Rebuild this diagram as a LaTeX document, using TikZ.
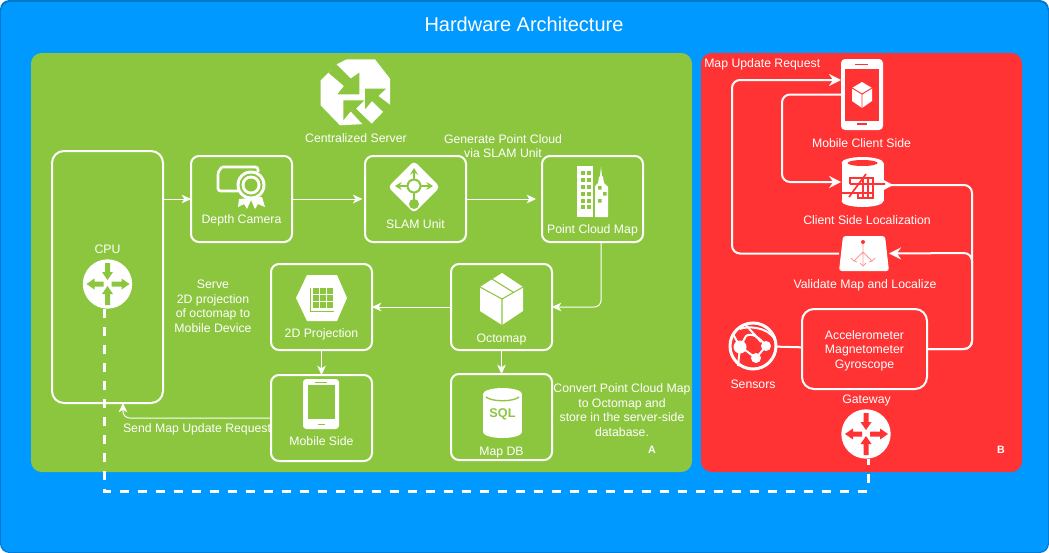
\documentclass[tikz,border=0pt]{standalone}
\usepackage{xcolor}
\usepackage{fontspec}
\usepackage{tikz}
\usetikzlibrary{shapes.geometric,arrows.meta,positioning,calc}
\setmainfont{Liberation Sans}
\definecolor{SkyBlue}{HTML}{0099FF}
\definecolor{EdgeBlue}{HTML}{0079CC}
\definecolor{LeafGreen}{HTML}{8CC63F}
\definecolor{AlertRed}{HTML}{FF3333}
\definecolor{SoftPink}{HTML}{FF9999}
\tikzset{
  BX/.style={rectangle,rounded corners=6pt,draw=white,line width=1.5pt,outer sep=0pt,
             minimum width=75.75pt,minimum height=64.5pt},
  lbl/.style={text=white,align=center,inner sep=0pt,
              font=\fontsize{9.2}{10.9}\selectfont},
  tag/.style={text=white,inner sep=0pt,font=\fontsize{8}{10}\selectfont\bfseries},
  arr/.style={-{Stealth[length=7pt,width=6.5pt,inset=2pt]},white,line width=.75pt,rounded corners=5pt},
  arrb/.style={-{Stealth[length=9pt,width=9pt,inset=3pt]},white,line width=1.5pt,rounded corners=6pt},
  bus/.style={white,line width=2.25pt,dash pattern=on 6.75pt off 6.75pt},
  disc/.style={circle,fill=white,outer sep=0pt,inner sep=0pt,minimum size=37pt},
  ghost/.style={rectangle,outer sep=0pt,inner sep=0pt}
}
% cylinder: centre x, top y, bottom y, half width, cap height
\newcommand{\cylbody}[5]{
  \fill[white] (#1,#2) ellipse [x radius=#4,y radius=#5];
  \fill[white] (#1,#3) ellipse [x radius=#4,y radius=#5];
  \fill[white] ({#1-#4},#2) rectangle ({#1+#4},#3);
}
% router: centre x, centre y, colour of the arrows
\newcommand{\routerarrows}[3]{
  \begin{scope}[shift={(#1,#2)},fill=#3]
    \fill (-2.5,-21) -- (2.5,-21) -- (2.5,-12) -- (5.5,-12) -- (0,-4) -- (-5.5,-12) -- (-2.5,-12) -- cycle;
    \fill (-2.5,21) -- (2.5,21) -- (2.5,10) -- (5.5,10) -- (0,2) -- (-5.5,10) -- (-2.5,10) -- cycle;
    \fill (-4,-2.5) -- (-4,2.5) -- (-13,2.5) -- (-13,5.5) -- (-21,0) -- (-13,-5.5) -- (-13,-2.5) -- cycle;
    \fill (4,-2.5) -- (4,2.5) -- (14,2.5) -- (14,5.5) -- (22,0) -- (14,-5.5) -- (14,-2.5) -- cycle;
  \end{scope}
}
% little cube, faces split by lines of colour #4
\newcommand{\cubeicon}[4]{
  \begin{scope}[shift={(#1,#2)},scale=#3]
    \fill[white] (0,-13) -- (10,-7) -- (10,6) -- (0,13) -- (-10,6) -- (-10,-7) -- cycle;
    \draw[#4,line width=.7pt] (-10,-7) -- (0,-1) -- (10,-7) (0,-1) -- (0,13);
  \end{scope}
}
\begin{document}
\begin{tikzpicture}[x=.75pt,y=-.75pt]
  \useasboundingbox (0,0) rectangle (1049,553);
  % panels
  \fill[EdgeBlue,rounded corners=7pt] (0,0) rectangle (1049,553);
  \fill[SkyBlue,rounded corners=7pt] (1,2) rectangle (1048,552);
  \fill[LeafGreen,rounded corners=8pt] (31,53) rectangle (692,472);
  \fill[AlertRed,rounded corners=8pt] (701,53) rectangle (1022,472);
  \node[lbl,font=\fontsize{15}{18}\selectfont] (title) at (524,24) {Hardware Architecture};
  \node[tag] (tagA) at (652,450) {A};
  \node[tag] (tagB) at (1001,450) {B};

  % left panel boxes
  \node[BX,rounded corners=9pt,minimum width=83.25pt,minimum height=189pt] (cpu) at (107.5,277) {};
  \node[BX,anchor=north west] (depth) at (191,156) {};
  \node[BX,right=54.75pt of depth] (slam) {};
  \node[BX,right=57pt of slam] (pcm) {};
  \node[BX,below=16.5pt of pcm,xshift=-68.25pt] (octomap) {};
  \node[BX,left=59.25pt of octomap] (proj) {};
  \node[BX,below=18.75pt of proj] (mobile) {};
  \node[BX,below=18pt of octomap] (mapdb) {};

  \node[lbl] (cpulbl) at (107.5,249) {CPU};
  \node[lbl,above=11.5pt of depth.south] (depthlbl) {Depth Camera};
  \node[lbl,above=10pt of slam.south] (slamlbl) {SLAM Unit};
  \node[lbl,above=4pt of pcm.south] (pcmlbl) {Point Cloud Map};
  \node[lbl,above=3.5pt of octomap.south] (octolbl) {Octomap};
  \node[lbl,above=7pt of proj.south] (projlbl) {2D Projection};
  \node[lbl,above=11pt of mobile.south] (mobilelbl) {Mobile Side};
  \node[lbl,above=1pt of mapdb.south] (mapdblbl) {Map DB};

  \node[lbl] (serverlbl) at (356,138) {Centralized Server};
  \node[lbl] (genlbl) at (503,146) {Generate Point Cloud\\via SLAM Unit};
  \node[lbl] (servelbl) at (213,306.5) {Serve\\2D projection\\of octomap to\\Mobile Device};
  \node[lbl] (sendlbl) at (197,429.5) {Send Map Update Request};
  \node[lbl] (convlbl) at (622,410) {Convert Point Cloud Map\\to Octomap and\\store in the server-side\\database.};

  % right panel
  \node[ghost,fill=white,rounded corners=3pt,minimum width=31.5pt,minimum height=53.25pt] (phone) at (862,94.5) {};
  \node[ghost,minimum width=32pt,minimum height=38pt] (clientdb) at (862.5,182) {};
  \node[ghost,minimum width=37.5pt,minimum height=26.25pt] (valid) at (864,253.5) {};
  \node[circle,draw=white,line width=2.25pt,outer sep=0pt,inner sep=0pt,minimum size=34.5pt] (sensors) at (753,346) {};
  \node[BX,minimum width=93.75pt,minimum height=60pt,rounded corners=9pt] (accel) at (864.5,349) {};
  \node[disc] (gateway) at (866,434) {};
  \node[disc] (cpurouter) at (107.5,284) {};

  \node[lbl,anchor=west] (reqlbl) at (704,64) {Map Update Request};
  \node[lbl] (mobclbl) at (861.5,143) {Mobile Client Side};
  \node[lbl] (loclbl) at (867,220.5) {Client Side Localization};
  \node[lbl] (validlbl) at (865,285) {Validate Map and Localize};
  \node[lbl] (senslbl) at (753,384) {Sensors};
  \node[lbl] (accellbl) at ([yshift=-1.2pt]accel.center) {Accelerometer\\Magnetometer\\Gyroscope};
  \node[lbl] (gatelbl) at (866.5,400.5) {Gateway};

  % connectors
  \draw[arr] (depth.west -| cpu.east) -- (depth.west);
  \draw[arr,shorten >=2pt] (depth) -- (slam);
  \draw[arr,shorten >=4.5pt] (slam) -- (pcm);
  \draw[arr] ([xshift=6.4pt]pcm.south) |- (octomap.east);
  \draw[arr] (octomap) -- (proj);
  \draw[arr] (proj) -- (mobile);
  \draw[arr] (octomap) -- (mapdb);
  \draw[arr] (mobile.west) -| ([xshift=11.6pt]cpu.south);
  \coordinate (busline) at (500,491);
  \draw[bus] ([xshift=-2.6pt]cpurouter.south) |- (busline) -| ([xshift=1.5pt]gateway.south);

  \coordinate (railA) at (732,80);
  \coordinate (railB) at (782,182);
  \coordinate (railC) at (972,185);
  \coordinate (railD) at (972,253);
  \draw[arrb] (valid.west) -| (railA) -- (railA -| phone.west);
  \draw[arrb] (phone.west) -| (railB) -- (railB -| clientdb.west);
  \draw[arrb,-{Stealth[reversed,length=7pt,width=7pt,inset=0pt]}] (accel.east) -| (railC) -- (railC -| clientdb.east);
  \draw[arrb] (accel.east) -| (railD) -- (valid.east);
  \draw[white,line width=1.5pt] (sensors) -- (accel);

  % server icon
  \begin{scope}[shift={(310,52)},x=.25pt,y=-.25pt]
    \fill[white] (78,38) -- (110,22) -- (195,22) -- (240,80) -- (240,158) -- (185,215) -- (90,220) -- (32,160) -- (32,85) -- (55,62) -- cycle;
    \fill[LeafGreen] (78,36) -- (122,80) -- (148,62) -- (148,127) -- (82,127) -- (102,102) -- (55,62) -- cycle;
    \fill[LeafGreen] (100,145) -- (163,145) -- (138,170) -- (192,222) -- (165,224) -- (122,178) -- (100,205) -- cycle;
    \fill[LeafGreen] (165,110) -- (228,110) -- (205,132) -- (242,160) -- (222,182) -- (186,147) -- (165,172) -- cycle;
  \end{scope}
  % certificate icon
  \draw[white,line width=2pt,rounded corners=2pt] (222,167) -- (258,167) -- (258,172) (238,191) -- (218,191) -- (218,172) -- (222,167);
  \fill[white] (239,199) -- (238,207) -- (244,204) -- (247,209) -- (251,200) -- (255,209) -- (258,204) -- (265,207) -- (262,197) -- cycle;
  \fill[white] (251,185) circle (14.5);
  \fill[LeafGreen] (251,185) circle (11.5);
  \fill[white] (251,185) circle (9.5);
  \fill[LeafGreen] (251,185) circle (6.5);
  % routing icon
  \fill[white,rounded corners=3pt] (414,161) -- (440,187) -- (414,213) -- (388,187) -- cycle;
  \draw[LeafGreen,line width=1.5pt,-{Stealth[length=5pt,width=6pt]}] (414,186) -- (414,168);
  \draw[LeafGreen,line width=1.5pt,-{Stealth[length=5pt,width=6pt]}] (414,186) -- (395,186);
  \draw[LeafGreen,line width=1.5pt,-{Stealth[length=5pt,width=6pt]}] (414,186) -- (433,186);
  \draw[LeafGreen,line width=1.5pt] (414,186) -- (414,203);
  \fill[LeafGreen] (414,186) circle (7.5);
  \fill[white] (414,186) circle (5.5);
  \fill[LeafGreen] (414,204) circle (5);
  % towers icon
  \fill[white] (577,166) rectangle (593,217);
  \foreach \rowy in {171,178,185,192,199,205}
    \foreach \colx in {581,587}
      \fill[LeafGreen] (\colx,\rowy) rectangle ++(3.5,3.5);
  \fill[white] (595,217) -- (595,186) -- (598,183) -- (599,177) -- (600,176) -- (601,167) -- (602,176) -- (603,177) -- (604,183) -- (608,187) -- (608,217) -- cycle;
  \fill[LeafGreen] (598,186) rectangle ++(3.5,3.5) (603,192) rectangle ++(3.5,3.5) (598,199) rectangle ++(3.5,3.5);
  % crate icon
  \fill[white] (502,273) -- (523,287) -- (523,311) -- (502,325) -- (480,311) -- (480,287) -- cycle;
  \draw[LeafGreen,line width=.8pt] (480,287) -- (502,299) -- (523,287) (502,299) -- (502,325) (492,279) -- (513,292);
  % grid icon
  \fill[white] (307,275) -- (337,275) -- (347,298) -- (337,321) -- (307,321) -- (296,298) -- cycle;
  \draw[LeafGreen,line width=.7pt] (310,288) -- (310,311) -- (334,311);
  \foreach \rowy in {288,295,302}
    \foreach \colx in {313,320,327}
      \fill[LeafGreen] (\colx,\rowy) rectangle ++(5.5,5.5);
  % tablet icon
  \fill[white,rounded corners=2.5pt] (303,379) rectangle (339,429);
  \fill[LeafGreen] (308,385) rectangle (335,419);
  \fill[LeafGreen] (315,381.5) rectangle (327,383);
  \fill[LeafGreen] (318,423.5) rectangle (325,425);
  % sql icon
  \cylbody{502.5}{394}{432}{19.5}{6}
  \draw[LeafGreen,line width=1pt] (486,397) .. controls (492,402) and (513,402) .. (519,397);
  \node[lbl,text=LeafGreen,font=\fontsize{9.5}{11}\selectfont\bfseries] (sqltxt) at (502.5,414) {SQL};
  % phone icon
  \fill[AlertRed] (845,69) rectangle (879,121);
  \fill[AlertRed] (855,63.5) rectangle (868,65);
  \fill[AlertRed] (857,123) rectangle (867,125);
  \cubeicon{862}{95}{1}{AlertRed}
  % map database icon
  \cylbody{862.5}{163}{201}{21}{6}
  \fill[AlertRed] (862.5,163) ellipse [x radius=15,y radius=3];
  \draw[AlertRed,line width=1.3pt] (850,184) -- (850,178) -- (873,178) -- (873,198) -- (858,198) -- (858,192) (841,193) -- (873,193) (866,174) -- (849,197) (863,178) -- (863,198) (868,178) -- (868,198) (850,184) -- (885,184);
  % splitter icon
  \fill[white,rounded corners=2pt] (843,236) -- (885,236) -- (889,271) -- (839,271) -- cycle;
  \begin{scope}[SoftPink,line width=.7pt]
    \draw (863,243) -- (863,266) (863,252) -- (854,261) (863,252) -- (872,261);
    \draw (851,258) -- (854,261) -- (857,262) (875,258) -- (872,261) -- (869,262) (860,263) -- (863,266) -- (866,263);
  \end{scope}
  \fill[AlertRed] (863,242) circle (2);
  % globe icon
  \begin{scope}[white,line width=1.5pt]
    \fill (740,347) circle (6.5) (766,346) circle (5) (756,358) circle (5);
    \draw (740,347) -- (746,336) .. controls (752,332) and (760,338) .. (766,346);
    \draw (740,347) .. controls (746,350) and (750,354) .. (756,358) -- (766,346);
    \draw (733,334) -- (740,347) -- (738,366);
    \draw (740,329) .. controls (746,326) and (768,326) .. (775,340);
    \draw (745,324) .. controls (752,332) and (756,336) .. (761,342);
  \end{scope}
  % routers
  \routerarrows{107.5}{284}{LeafGreen}
  \routerarrows{866}{434}{AlertRed}
\end{tikzpicture}
\end{document}
